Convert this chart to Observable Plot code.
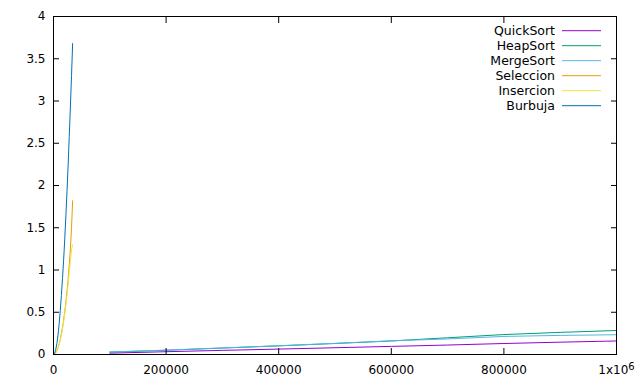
<!DOCTYPE html>
<html><head><meta charset="utf-8">
<script src="https://cdn.jsdelivr.net/npm/d3@7"></script>
<script src="https://cdn.jsdelivr.net/npm/@observablehq/plot@0.6"></script>
<style>
body{margin:0;background:#fff;}
#wrap{position:relative;width:640px;height:384px;font-family:"DejaVu Sans",sans-serif;}
#legend{position:absolute;left:0;top:0;pointer-events:none;}
</style></head><body><div id="wrap"></div>
<script>
const seriesNames = ["QuickSort","HeapSort","MergeSort","Seleccion","Insercion","Burbuja"];
const seriesColors = ["#9400d3","#009e73","#56b4e9","#e69f00","#f0e442","#0072b2"];

const nLarge = [100000,200000,300000,400000,500000,600000,700000,800000,900000,1000000];
const quickSort = [0.016,0.033,0.049,0.064,0.080,0.096,0.112,0.130,0.146,0.160];
const heapSort  = [0.028,0.050,0.076,0.102,0.130,0.160,0.198,0.236,0.262,0.284];
const mergeSort = [0.030,0.052,0.078,0.104,0.132,0.162,0.184,0.214,0.226,0.234];

const nSmall = [0,2000,4000,6000,8000,10000,12000,14000,16000,18000,20000,22000,24000,26000,28000,30000,32000,34000];
const seleccion = [0,0.005,0.020,0.045,0.080,0.125,0.180,0.245,0.320,0.410,0.510,0.620,0.750,0.890,1.060,1.250,1.500,1.820];
const insercion = [0,0.004,0.018,0.042,0.075,0.118,0.170,0.230,0.300,0.385,0.480,0.585,0.700,0.830,0.970,1.100,1.240,1.300];
const burbuja   = [0,0.015,0.060,0.130,0.230,0.360,0.520,0.700,0.900,1.120,1.370,1.640,1.930,2.240,2.580,2.930,3.300,3.680];

const yTicks = [0,0.5,1,1.5,2,2.5,3,3.5,4];
const yTickLabels = ["0","0.5","1","1.5","2","2.5","3","3.5","4"];
const xTicks = [0,200000,400000,600000,800000,1000000];
const xTickLabels = ["0","200000","400000","600000","800000","1x10⁶"];

const rows = [];
const addSeries = (name, xs, ys) => xs.forEach((n, i) => rows.push({s: name, n, t: ys[i]}));
addSeries("QuickSort", nLarge, quickSort);
addSeries("HeapSort", nLarge, heapSort);
addSeries("MergeSort", nLarge, mergeSort);
addSeries("Seleccion", nSmall, seleccion);
addSeries("Insercion", nSmall, insercion);
addSeries("Burbuja", nSmall, burbuja);

const W = 640, H = 384, mL = 53, mR = 24, mT = 16, mB = 30;

const chart = Plot.plot({
  width: W, height: H,
  marginLeft: mL, marginRight: mR, marginTop: mT, marginBottom: mB,
  style: {fontFamily: '"DejaVu Sans", sans-serif', fontSize: "12px", background: "white", color: "black"},
  x: {domain: [0, 1000000], label: null},
  y: {domain: [0, 4], label: null},
  color: {domain: seriesNames, range: seriesColors},
  marks: [
    Plot.line(rows, {x: "n", y: "t", z: "s", stroke: "s", strokeWidth: 1}),
    Plot.frame({stroke: "black", strokeWidth: 1}),
    Plot.axisY(yTicks, {anchor: "left", tickSize: -6, fill: "none", label: null}),
    Plot.axisY(yTicks, {anchor: "right", tickSize: -6, fill: "none", label: null}),
    Plot.axisY(yTicks, {anchor: "left", tickSize: 0, tickPadding: 8, label: null, tickFormat: d => yTickLabels[yTicks.indexOf(d)]}),
    Plot.axisX(xTicks, {anchor: "bottom", tickSize: -6, fill: "none", label: null}),
    Plot.axisX(xTicks, {anchor: "top", tickSize: -6, fill: "none", label: null}),
    Plot.axisX(xTicks, {anchor: "bottom", tickSize: 0, tickPadding: 11, label: null, tickFormat: d => xTickLabels[xTicks.indexOf(d)]})
  ]
});
document.getElementById("wrap").appendChild(chart);

// superscript on the last x tick label
d3.select(chart).selectAll("text").each(function() {
  if (this.textContent === "1x10⁶") {
    const t = d3.select(this);
    t.text("1x10");
    t.append("tspan").attr("dy", "-0.45em").attr("font-size", "10px").text("6");
  }
});

// legend overlay
const leg = d3.select("#wrap").append("svg")
  .attr("id", "legend").attr("width", W).attr("height", H)
  .style("font-family", '"DejaVu Sans", sans-serif').style("font-size", "12.5px");
seriesNames.forEach((name, i) => {
  const cy = 30.7 + 15 * i;
  leg.append("text").attr("x", 555).attr("y", cy).attr("dy", "0.35em")
    .attr("text-anchor", "end").attr("fill", "black").text(name);
  leg.append("line").attr("x1", 562).attr("x2", 601).attr("y1", cy).attr("y2", cy)
    .attr("stroke", seriesColors[i]).attr("stroke-width", 1);
});
</script></body></html>
